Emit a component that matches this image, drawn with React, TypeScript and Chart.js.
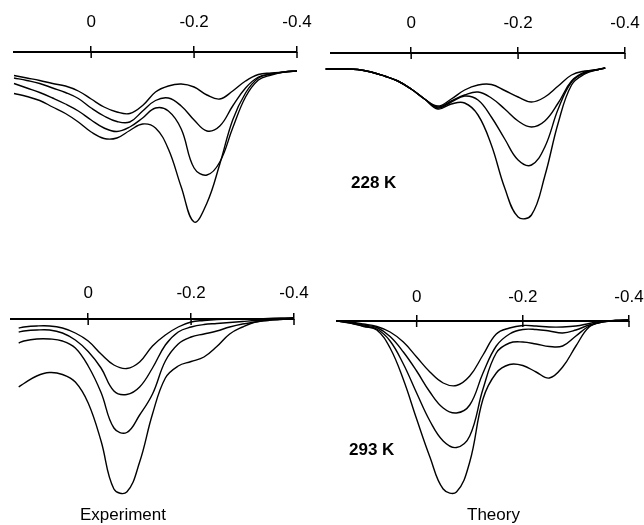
import React, { useEffect, useRef } from "react";
import { Chart, registerables } from "chart.js";

Chart.register(...registerables);

const W = 644;
const H = 525;
const FONT = "'Liberation Sans', Arial, Helvetica, sans-serif";

// x-axis tick values (shared by all four panels)
const TICKS = [0, -0.2, -0.4];

// ---------- Experiment, 228 K (top-left) ----------
const X_EXP228 = [0.15, 0.125, 0.1, 0.075, 0.05, 0.025, 0, -0.025, -0.05, -0.075, -0.1, -0.125, -0.15, -0.175, -0.2, -0.225, -0.25, -0.275, -0.3, -0.325, -0.35, -0.375, -0.4];
const EXP228_1 = [-0.235, -0.26, -0.285, -0.315, -0.34, -0.39, -0.47, -0.55, -0.6, -0.615, -0.535, -0.4, -0.34, -0.32, -0.35, -0.43, -0.47, -0.39, -0.29, -0.225, -0.21, -0.2, -0.19];
const EXP228_2 = [-0.26, -0.285, -0.315, -0.36, -0.405, -0.465, -0.56, -0.64, -0.695, -0.7, -0.59, -0.485, -0.46, -0.54, -0.68, -0.79, -0.74, -0.54, -0.36, -0.25, -0.22, -0.2, -0.19];
const EXP228_3 = [-0.315, -0.36, -0.405, -0.46, -0.52, -0.59, -0.68, -0.76, -0.795, -0.75, -0.66, -0.56, -0.59, -0.77, -1.16, -1.23, -1.1, -0.76, -0.45, -0.28, -0.23, -0.2, -0.19];
const EXP228_4 = [-0.415, -0.445, -0.485, -0.55, -0.615, -0.7, -0.8, -0.865, -0.86, -0.785, -0.72, -0.76, -0.97, -1.35, -1.7, -1.51, -1.12, -0.68, -0.41, -0.26, -0.22, -0.2, -0.19];

// ---------- Theory, 228 K (top-right) ----------
const X_TH228 = [0.16, 0.125, 0.1, 0.075, 0.05, 0.025, 0, -0.025, -0.05, -0.075, -0.1, -0.125, -0.15, -0.175, -0.2, -0.225, -0.25, -0.275, -0.3, -0.325, -0.35, -0.363];
const TH228_1 = [-0.16, -0.16, -0.165, -0.19, -0.23, -0.28, -0.36, -0.46, -0.53, -0.46, -0.37, -0.32, -0.315, -0.375, -0.44, -0.49, -0.44, -0.33, -0.22, -0.18, -0.165, -0.15];
const TH228_2 = [-0.16, -0.16, -0.165, -0.19, -0.23, -0.28, -0.36, -0.46, -0.54, -0.48, -0.42, -0.39, -0.45, -0.56, -0.68, -0.74, -0.68, -0.5, -0.28, -0.19, -0.165, -0.15];
const TH228_3 = [-0.16, -0.16, -0.165, -0.19, -0.23, -0.28, -0.36, -0.46, -0.55, -0.49, -0.43, -0.47, -0.64, -0.86, -1.07, -1.12, -0.94, -0.56, -0.29, -0.2, -0.165, -0.15];
const TH228_4 = [-0.16, -0.16, -0.165, -0.19, -0.23, -0.28, -0.36, -0.46, -0.56, -0.51, -0.5, -0.62, -0.92, -1.35, -1.64, -1.62, -1.23, -0.7, -0.32, -0.21, -0.165, -0.15];

// ---------- Experiment, 293 K (bottom-left) ----------
const X_EXP293 = [0.135, 0.125, 0.1, 0.075, 0.05, 0.025, 0, -0.025, -0.05, -0.075, -0.1, -0.125, -0.15, -0.175, -0.2, -0.225, -0.25, -0.275, -0.3, -0.325, -0.35, -0.375, -0.4];
const EXP293_1 = [-0.09, -0.08, -0.07, -0.07, -0.09, -0.14, -0.22, -0.35, -0.46, -0.495, -0.43, -0.27, -0.16, -0.08, -0.03, -0.015, -0.005, 0, 0, 0, 0.005, 0.01, 0.01];
const EXP293_2 = [-0.13, -0.12, -0.11, -0.11, -0.14, -0.21, -0.325, -0.49, -0.72, -0.755, -0.68, -0.49, -0.26, -0.13, -0.08, -0.055, -0.045, -0.035, -0.025, -0.015, -0.01, -0.005, 0.01];
const EXP293_3 = [-0.24, -0.22, -0.2, -0.2, -0.22, -0.29, -0.47, -0.735, -1.09, -1.135, -0.96, -0.75, -0.42, -0.25, -0.18, -0.15, -0.12, -0.08, -0.05, -0.03, -0.01, 0, 0.01];
const EXP293_4 = [-0.68, -0.645, -0.57, -0.535, -0.555, -0.63, -0.84, -1.22, -1.7, -1.73, -1.43, -0.95, -0.59, -0.47, -0.425, -0.38, -0.275, -0.15, -0.08, -0.03, -0.015, 0, 0.01];

// ---------- Theory, 293 K (bottom-right) ----------
const X_TH293 = [0.15, 0.125, 0.1, 0.075, 0.05, 0.025, 0, -0.025, -0.05, -0.075, -0.1, -0.125, -0.15, -0.175, -0.2, -0.225, -0.25, -0.275, -0.3, -0.325, -0.35, -0.375, -0.4];
const TH293_1 = [0, -0.01, -0.03, -0.055, -0.11, -0.21, -0.36, -0.51, -0.62, -0.645, -0.55, -0.34, -0.13, -0.07, -0.045, -0.05, -0.06, -0.06, -0.05, -0.025, 0, 0.005, 0.01];
const TH293_2 = [0, -0.015, -0.04, -0.065, -0.155, -0.31, -0.5, -0.71, -0.87, -0.92, -0.84, -0.52, -0.25, -0.13, -0.085, -0.085, -0.1, -0.12, -0.09, -0.04, -0.01, 0.005, 0.01];
const TH293_3 = [0, -0.02, -0.05, -0.08, -0.2, -0.43, -0.72, -1.0, -1.2, -1.265, -1.15, -0.68, -0.32, -0.22, -0.21, -0.23, -0.255, -0.25, -0.15, -0.05, -0.005, 0.005, 0.01];
const TH293_4 = [0, -0.02, -0.055, -0.09, -0.27, -0.585, -0.98, -1.36, -1.68, -1.71, -1.41, -0.78, -0.52, -0.435, -0.445, -0.51, -0.57, -0.46, -0.25, -0.06, -0.01, 0.005, 0.01];

type Panel = {
  xs: number[];
  series: number[][];
  left: number; // page x of axis start (x = 0.15)
  right: number; // page x of -0.4 tick
  axisY: number; // page y of axis line
  labelPad: number;
};

const PANELS: Panel[] = [
  { xs: X_EXP228, series: [EXP228_1, EXP228_2, EXP228_3, EXP228_4], left: 14, right: 297, axisY: 52, labelPad: 13 },
  { xs: X_TH228, series: [TH228_1, TH228_2, TH228_3, TH228_4], left: 331, right: 625, axisY: 53, labelPad: 13 },
  { xs: X_EXP293, series: [EXP293_1, EXP293_2, EXP293_3, EXP293_4], left: 11, right: 294, axisY: 319, labelPad: 9.5 },
  { xs: X_TH293, series: [TH293_1, TH293_2, TH293_3, TH293_4], left: 337, right: 629, axisY: 321, labelPad: 7.5 },
];

const tickBelow = {
  id: "tickBelow",
  afterDraw(chart: any) {
    const s = chart.scales.x;
    const ctx = chart.ctx;
    const top = chart.chartArea.top;
    ctx.save();
    ctx.strokeStyle = "#000";
    ctx.lineWidth = 1.5;
    s.ticks.forEach((t: any) => {
      const px = s.getPixelForValue(t.value);
      ctx.beginPath();
      ctx.moveTo(px, top);
      ctx.lineTo(px, top + 6);
      ctx.stroke();
    });
    ctx.restore();
  },
};

function PanelChart({ p }: { p: Panel }) {
  const ref = useRef<HTMLCanvasElement>(null);
  useEffect(() => {
    if (!ref.current) return;
    const chart = new Chart(ref.current, {
      type: "line",
      data: {
        datasets: p.series.map((s) => ({
          data: p.xs.map((x, i) => ({ x, y: s[i] })),
          borderColor: "#000",
          borderWidth: 1.4,
          pointRadius: 0,
          tension: 0.4,
          fill: false,
          clip: false as any,
        })),
      },
      options: {
        responsive: false,
        animation: false,
        devicePixelRatio: 1,
        layout: { padding: { left: p.left, right: W - p.right, top: 0, bottom: H - (p.axisY + 200) } },
        plugins: { legend: { display: false }, tooltip: { enabled: false }, title: { display: false } },
        scales: {
          x: {
            type: "linear",
            position: "top",
            reverse: true,
            min: -0.4,
            max: 0.15,
            afterBuildTicks: (s: any) => {
              s.ticks = TICKS.map((v) => ({ value: v }));
            },
            afterFit: (s: any) => {
              s.height = p.axisY;
              s.paddingLeft = 0;
              s.paddingRight = 0;
            },
            border: { display: true, color: "#000", width: 2 },
            grid: { drawOnChartArea: false, drawTicks: true, tickLength: 6, color: "#000", lineWidth: 1.5 },
            ticks: {
              color: "#000",
              font: { family: FONT, size: 17 },
              padding: p.labelPad,
              maxRotation: 0,
              autoSkip: false,
              callback: (v: any) => String(v),
            },
          },
          y: { display: false, min: -2, max: 0 },
        },
      } as any,
      plugins: [tickBelow],
    });
    return () => chart.destroy();
  }, [p]);
  return (
    <canvas
      ref={ref}
      width={W}
      height={H}
      style={{ position: "absolute", left: 0, top: 0, width: W, height: H }}
    />
  );
}

const textStyle: React.CSSProperties = {
  position: "absolute",
  fontFamily: FONT,
  fontSize: 17,
  lineHeight: "17px",
  color: "#000",
  whiteSpace: "nowrap",
};

export default function App() {
  return (
    <div style={{ position: "absolute", left: 0, top: 0, width: W, height: H, overflow: "hidden", background: "#fff" }}>
      {PANELS.map((p, i) => (
        <PanelChart key={i} p={p} />
      ))}
      <div style={{ ...textStyle, left: 351, top: 174, fontWeight: "bold" }}>228 K</div>
      <div style={{ ...textStyle, left: 349, top: 441, fontWeight: "bold" }}>293 K</div>
      <div style={{ ...textStyle, left: 80, top: 506 }}>Experiment</div>
      <div style={{ ...textStyle, left: 467, top: 506 }}>Theory</div>
    </div>
  );
}
